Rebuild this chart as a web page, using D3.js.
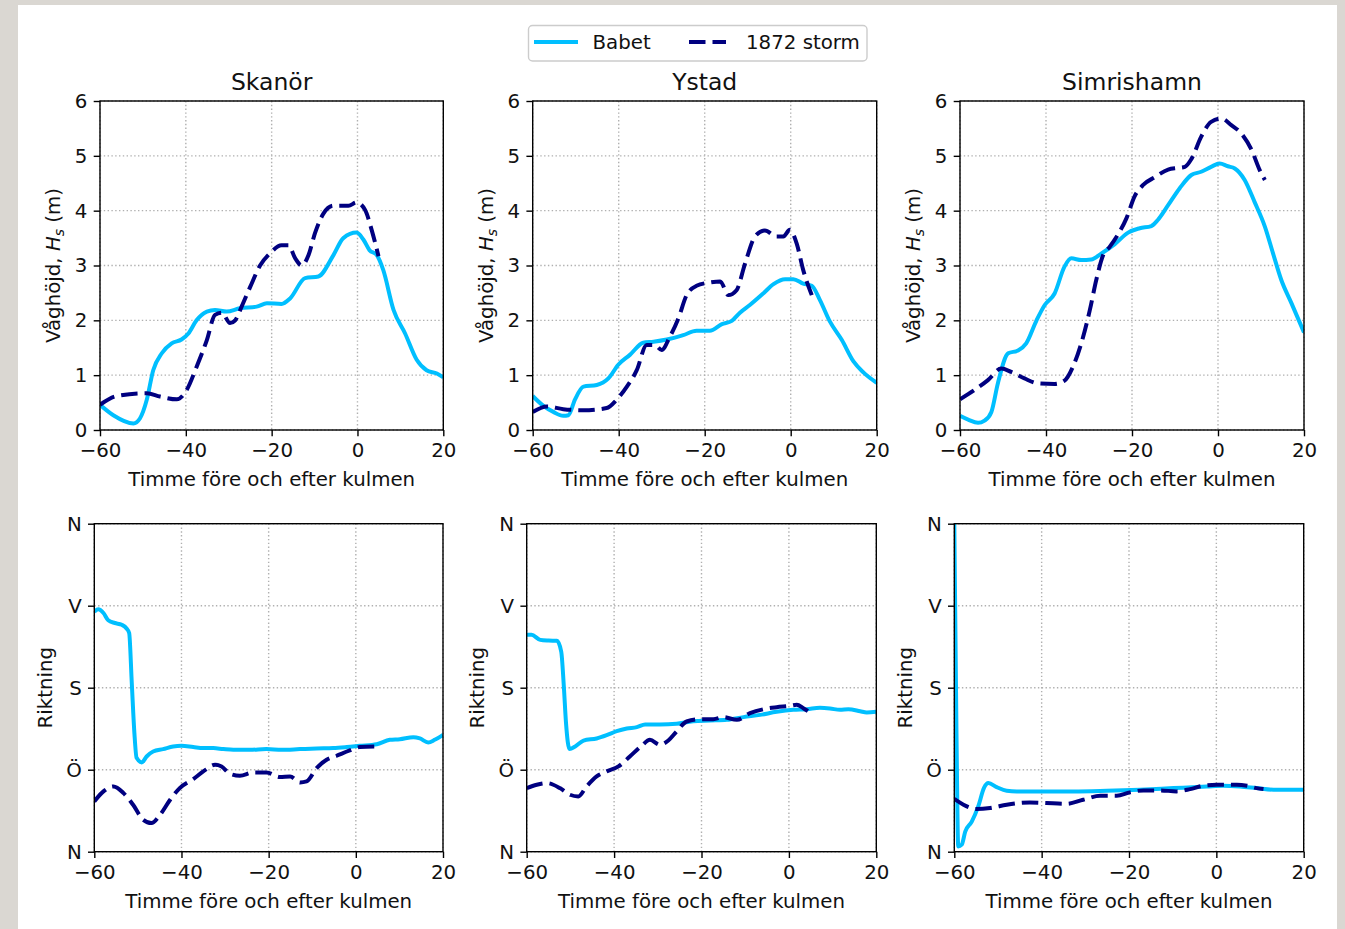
<!DOCTYPE html>
<html lang="sv">
<head>
<meta charset="UTF-8">
<title>Våghöjd och riktning</title>
<style>
  body { margin: 0; background: #dad7d2; }
  svg { display: block; }
</style>
</head>
<body>
<script src="https://d3js.org/d3.v7.min.js"></script>
<script>
// timmar före/efter kulmen
var hourTicks = [-60, -40, -20, 0, 20];
var hsTicks = [0, 1, 2, 3, 4, 5, 6];
var dirTicks = [0, 90, 180, 270, 360];
var dirLabels = ["N", "Ö", "S", "V", "N"];
var stations = ["Skanör", "Ystad", "Simrishamn"];
var seriesNames = ["Babet", "1872 storm"];

var skanorHsBabet = [[-60,0.46],[-56.9,0.27],[-52.2,0.12],[-50.7,0.21],[-49.1,0.55],[-47.6,1.09],[-45.6,1.40],[-43.3,1.58],[-41,1.65],[-39.4,1.76],[-37.5,2.0],[-35.1,2.16],[-33.2,2.19],[-30.5,2.16],[-27.4,2.22],[-23.5,2.25],[-21.1,2.31],[-17.7,2.30],[-15.7,2.40],[-12.2,2.77],[-9.1,2.80],[-5.6,3.19],[-3.3,3.50],[-0.2,3.60],[1.4,3.47],[2.8,3.28],[4.5,3.19],[6.0,2.92],[8.4,2.19],[11.1,1.76],[13.8,1.28],[16.1,1.09],[18.5,1.03],[20,0.96]];
var skanorHsStorm = [[-60,0.46],[-56.1,0.62],[-49.1,0.67],[-46,0.61],[-42.1,0.56],[-39.8,0.73],[-37.5,1.15],[-35.1,1.64],[-33.2,2.1],[-31.6,2.14],[-29.7,1.95],[-28.5,2.0],[-27,2.25],[-25,2.61],[-22.7,3.0],[-20.4,3.22],[-17.7,3.37],[-16.1,3.37],[-14.5,3.13],[-13,3.0],[-11.4,3.19],[-9.9,3.59],[-7.9,3.95],[-5.6,4.09],[-2.1,4.09],[-0.2,4.15],[1.8,4.01],[3.3,3.65],[4.9,3.17]];
var ystadHsBabet = [[-60,0.62],[-57.5,0.44],[-55.2,0.33],[-52.9,0.26],[-51.7,0.27],[-50.2,0.55],[-48.2,0.79],[-45.1,0.82],[-42.4,0.94],[-40.1,1.19],[-37.4,1.37],[-34.3,1.59],[-31.9,1.61],[-28.8,1.65],[-25,1.73],[-21.9,1.81],[-18.8,1.81],[-16,1.93],[-13.7,1.99],[-11.8,2.14],[-9.5,2.28],[-6.4,2.49],[-4.0,2.66],[-1.3,2.75],[0.6,2.75],[2.9,2.67],[4.9,2.63],[6.8,2.37],[9.1,1.98],[11.9,1.64],[14.6,1.25],[16.9,1.05],[20,0.86]];
var ystadHsStorm = [[-60,0.33],[-56.7,0.43],[-52.9,0.38],[-48.2,0.36],[-42.8,0.40],[-40.5,0.55],[-38.1,0.79],[-35.8,1.09],[-33.5,1.55],[-31.6,1.55],[-30,1.46],[-28.1,1.70],[-26.1,2.04],[-24.2,2.46],[-21.9,2.63],[-18.8,2.69],[-16.4,2.71],[-14.5,2.46],[-12.6,2.55],[-10.6,3.04],[-8.3,3.53],[-6,3.64],[-3.3,3.53],[-1.7,3.53],[-0.2,3.65],[1.4,3.40],[2.9,2.92],[4.9,2.46]];
var simHsBabet = [[-60,0.26],[-58.1,0.19],[-55.8,0.13],[-54.3,0.17],[-52.7,0.33],[-51.2,0.85],[-48.8,1.40],[-46.5,1.45],[-44.6,1.58],[-42.2,2.0],[-40.3,2.28],[-38,2.49],[-35.7,2.98],[-34.1,3.13],[-31.8,3.10],[-29.5,3.11],[-27.1,3.22],[-24,3.39],[-20.9,3.60],[-18.2,3.68],[-15.5,3.72],[-14,3.83],[-11.6,4.10],[-8.9,4.41],[-6.2,4.65],[-3.9,4.71],[-1.6,4.80],[0.4,4.86],[2.3,4.81],[3.9,4.77],[6.2,4.56],[8.5,4.16],[10.9,3.71],[12.8,3.22],[14.7,2.74],[17.1,2.31],[20,1.78]];
var simHsStorm = [[-60,0.56],[-56.6,0.73],[-53.5,0.91],[-50.4,1.12],[-48.1,1.06],[-45,0.94],[-41.9,0.85],[-38,0.84],[-35.7,0.90],[-33.7,1.16],[-31.8,1.58],[-29.8,2.19],[-28.3,2.74],[-26.7,3.19],[-25.2,3.34],[-23.3,3.56],[-21.3,3.86],[-19.4,4.26],[-17.4,4.47],[-14.7,4.61],[-11.6,4.75],[-9.3,4.78],[-7.7,4.80],[-6.2,4.94],[-3.9,5.35],[-1.6,5.62],[0.8,5.68],[3.1,5.56],[5.4,5.41],[7.8,5.11],[9.7,4.74],[10.9,4.56]];

var skanorDirBabet = [[-60,263.5],[-59.1,266],[-57.9,262],[-56.8,254],[-55.3,251],[-53.7,249],[-52.6,245],[-52,240],[-51.4,185],[-50.8,130],[-50.3,103],[-49.1,98],[-48,104.5],[-46.5,110],[-44.2,112.6],[-41.9,115.5],[-40,116.2],[-37.3,114.8],[-35,113.7],[-32.7,113.7],[-30.4,112.6],[-28.1,111.8],[-24.3,111.8],[-20.5,112.6],[-17,111.8],[-12.8,112.6],[-9,113.3],[-5.2,113.7],[-2.1,114.8],[0.9,116.2],[4.8,118],[7.8,122.8],[10.1,123.5],[13.2,125.7],[14.7,124.3],[16.6,119.9],[18.1,122.8],[20,128.3]];
var skanorDirStorm = [[-60,55.2],[-57.9,66.2],[-55.6,71.6],[-53.3,64.3],[-51.1,51.5],[-48.8,35.1],[-46.9,31.4],[-44.9,40.6],[-42.6,57],[-40.4,69.8],[-37.3,79.7],[-35,88.1],[-32.3,95.4],[-30.8,93.6],[-28.9,85.5],[-26.6,83.3],[-23.5,87],[-20.5,87],[-17.4,81.9],[-15.1,82.6],[-12.8,76],[-11.3,77.1],[-9,91.7],[-6.7,100.9],[-4.4,105.3],[-1.4,111.1],[0.9,114.8],[4.8,115.5]];
var ystadDirBabet = [[-60,238],[-58.9,238],[-56.9,232.5],[-55,231.7],[-53.1,231.4],[-52.1,219.7],[-51.5,181.3],[-51,141],[-50.2,112.6],[-48.9,115.5],[-47,122],[-44,124.3],[-41.7,127.9],[-39.4,132.3],[-37.1,135.2],[-34.8,136.7],[-32.9,139.6],[-29.5,139.6],[-25.7,140.4],[-21.9,143.3],[-18,144],[-14.2,144.7],[-10.4,147.7],[-6.6,150.2],[-2.8,153.5],[1,155.7],[4.1,156.4],[7.1,157.9],[9.4,157.2],[11.7,155.7],[13.6,156.4],[16.3,154.2],[17.8,152.8],[20,153.5]];
var ystadDirStorm = [[-60,69.8],[-57.7,73.5],[-55.4,75.3],[-52.4,69.8],[-50.1,62.5],[-48.2,60.7],[-46.3,71.6],[-44,82.6],[-41.7,88.1],[-39,93.6],[-36.4,104.5],[-33.7,116.2],[-31.8,122.8],[-29.5,117.3],[-27.6,122],[-25.7,131.9],[-23.4,142.9],[-20.3,145.5],[-17.3,145.5],[-15,147.7],[-11.9,144.7],[-8.9,152],[-5.8,156.4],[-2.8,158.6],[0.3,160.1],[1.8,161.2],[3.3,157.5],[4.5,153.9]];
var simDirBabet = [[-60,360],[-59.5,130],[-59.1,5.8],[-58.3,7.7],[-57.5,22],[-56,33],[-54.5,50],[-53.2,70],[-52.2,75.3],[-50.3,70.9],[-48,66.9],[-45.7,66.2],[-40.4,66.2],[-32.7,66.2],[-25.1,66.9],[-17.5,68],[-9.8,69.8],[-2.2,71.6],[1.6,72.4],[5.4,71.6],[9.2,69.8],[13.1,68],[20,68]];
var simDirStorm = [[-60,58],[-57.9,51.5],[-54.9,46.8],[-51.8,47.9],[-48,51.5],[-42.7,54.1],[-38.9,53.4],[-34.3,52.6],[-30.5,57],[-26.6,61.4],[-22.8,61.4],[-19.8,65.1],[-16.7,67.3],[-12.9,67.3],[-9.1,66.2],[-6,68.7],[-3,72.4],[0.1,73.5],[4.7,73.5],[7,72.4],[9.2,69.8],[10.8,68.7]];

var babetColor = "#00bfff", stormColor = "#000080";
var font = "DejaVu Sans";
var fs = 19.8, titleFs = 23.5;

var svg = d3.select("body").append("svg")
    .attr("width", 1345)
    .attr("height", 929);

svg.append("rect")
    .attr("x", 18).attr("y", 5)
    .attr("width", 1319).attr("height", 924)
    .attr("fill", "white");

// panel boxes: [left, right, top, bottom]
var topBoxes = [[100, 443.3, 101, 430], [532.7, 876.7, 101, 430], [960, 1304, 101, 430]];
var botBoxes = [[94.3, 443, 523.7, 851.7], [526.7, 876.3, 523.7, 851.7], [954.3, 1303.7, 523.7, 851.7]];

var hsData = [[skanorHsBabet, skanorHsStorm], [ystadHsBabet, ystadHsStorm], [simHsBabet, simHsStorm]];
var dirData = [[skanorDirBabet, skanorDirStorm], [ystadDirBabet, ystadDirStorm], [simDirBabet, simDirStorm]];

var clipId = 0;

function drawPanel(box, yDomain, yTicks, yFormat, data, opts) {
    var x = d3.scaleLinear().domain([-60, 20]).range([box[0], box[1]]);
    var y = d3.scaleLinear().domain(yDomain).range([box[3], box[2]]);
    var g = svg.append("g");

    // grid
    g.append("g").selectAll("line").data(hourTicks).enter().append("line")
        .attr("x1", function(d) { return x(d); }).attr("x2", function(d) { return x(d); })
        .attr("y1", box[2]).attr("y2", box[3])
        .attr("stroke", "#b0b0b0").attr("stroke-width", 1.4).attr("stroke-dasharray", "1.4,2.4");
    g.append("g").selectAll("line").data(yTicks).enter().append("line")
        .attr("y1", function(d) { return y(d); }).attr("y2", function(d) { return y(d); })
        .attr("x1", box[0]).attr("x2", box[1])
        .attr("stroke", "#b0b0b0").attr("stroke-width", 1.4).attr("stroke-dasharray", "1.4,2.4");

    // lines
    var id = "clip" + (clipId++);
    svg.append("clipPath").attr("id", id).append("rect")
        .attr("x", box[0]).attr("y", box[2])
        .attr("width", box[1] - box[0]).attr("height", box[3] - box[2]);

    var line = d3.line()
        .x(function(d) { return x(d[0]); })
        .y(function(d) { return y(d[1]); })
        .curve(d3.curveMonotoneX);

    g.append("path").datum(data[0])
        .attr("clip-path", "url(#" + id + ")")
        .attr("d", line).attr("fill", "none")
        .attr("stroke", babetColor).attr("stroke-width", 4)
        .attr("stroke-linejoin", "round");
    g.append("path").datum(data[1])
        .attr("clip-path", "url(#" + id + ")")
        .attr("d", line).attr("fill", "none")
        .attr("stroke", stormColor).attr("stroke-width", 4)
        .attr("stroke-dasharray", "16.5,7")
        .attr("stroke-linejoin", "round");

    // spines
    g.append("rect")
        .attr("x", box[0]).attr("y", box[2])
        .attr("width", box[1] - box[0]).attr("height", box[3] - box[2])
        .attr("fill", "none").attr("stroke", "black").attr("stroke-width", 1.4);

    // axes
    var xAxis = d3.axisBottom(x).tickValues(hourTicks).tickSize(6.3).tickPadding(7).tickSizeOuter(0);
    var gx = g.append("g").attr("transform", "translate(0," + box[3] + ")").call(xAxis);
    var yAxis = d3.axisLeft(y).tickValues(yTicks).tickFormat(yFormat).tickSize(6.3).tickPadding(6.3).tickSizeOuter(0);
    var gy = g.append("g").attr("transform", "translate(" + box[0] + ",0)").call(yAxis);
    [gx, gy].forEach(function(a) {
        a.select(".domain").remove();
        a.attr("font-family", font).attr("font-size", fs);
        a.selectAll("line").attr("stroke", "black").attr("stroke-width", 1.4);
        a.selectAll("text").attr("fill", "#111");
    });

    // x label
    g.append("text")
        .attr("x", (box[0] + box[1]) / 2).attr("y", opts.xlabelY)
        .attr("text-anchor", "middle")
        .attr("font-family", font).attr("font-size", fs).attr("fill", "#111")
        .text("Timme före och efter kulmen");

    // y label
    var yl = g.append("text")
        .attr("transform", "translate(" + (box[0] - opts.ylabelOffset) + "," + ((box[2] + box[3]) / 2) + ") rotate(-90)")
        .attr("text-anchor", "middle")
        .attr("font-family", font).attr("font-size", fs).attr("fill", "#111");
    opts.ylabel(yl);

    if (opts.title) {
        g.append("text")
            .attr("x", (box[0] + box[1]) / 2).attr("y", 89.5)
            .attr("text-anchor", "middle")
            .attr("font-family", font).attr("font-size", titleFs).attr("fill", "#111")
            .text(opts.title);
    }
}

function hsLabel(t) {
    t.append("tspan").text("Våghöjd, ");
    t.append("tspan").attr("font-style", "italic").text("H");
    t.append("tspan").attr("font-style", "italic").attr("font-size", 13.9).attr("dy", 4).text("s");
    t.append("tspan").attr("dy", -4).text(" (m)");
}
function dirLabel(t) {
    t.text("Riktning");
}

stations.forEach(function(name, i) {
    drawPanel(topBoxes[i], [0, 6], hsTicks, d3.format("d"), hsData[i],
        { title: name, xlabelY: 485.5, ylabelOffset: 40, ylabel: hsLabel });
    drawPanel(botBoxes[i], [0, 360], dirTicks, function(d, k) { return dirLabels[k]; }, dirData[i],
        { xlabelY: 908, ylabelOffset: 42.5, ylabel: dirLabel });
});

// legend
var leg = svg.append("g");
leg.append("rect")
    .attr("x", 528.5).attr("y", 25.5)
    .attr("width", 338.5).attr("height", 35.5)
    .attr("rx", 4).attr("ry", 4)
    .attr("fill", "white").attr("fill-opacity", 0.8)
    .attr("stroke", "#cccccc").attr("stroke-width", 1.4);
var legX = [[534, 578, 592.5], [689, 726, 746]];
seriesNames.forEach(function(n, i) {
    var l = leg.append("line")
        .attr("x1", legX[i][0]).attr("x2", legX[i][1])
        .attr("y1", 42).attr("y2", 42)
        .attr("stroke", i === 0 ? babetColor : stormColor)
        .attr("stroke-width", 4);
    if (i === 1) l.attr("stroke-dasharray", "16.5,7");
    leg.append("text")
        .attr("x", legX[i][2]).attr("y", 49)
        .attr("font-family", font).attr("font-size", fs).attr("fill", "#111")
        .text(n);
});
</script>
</body>
</html>
